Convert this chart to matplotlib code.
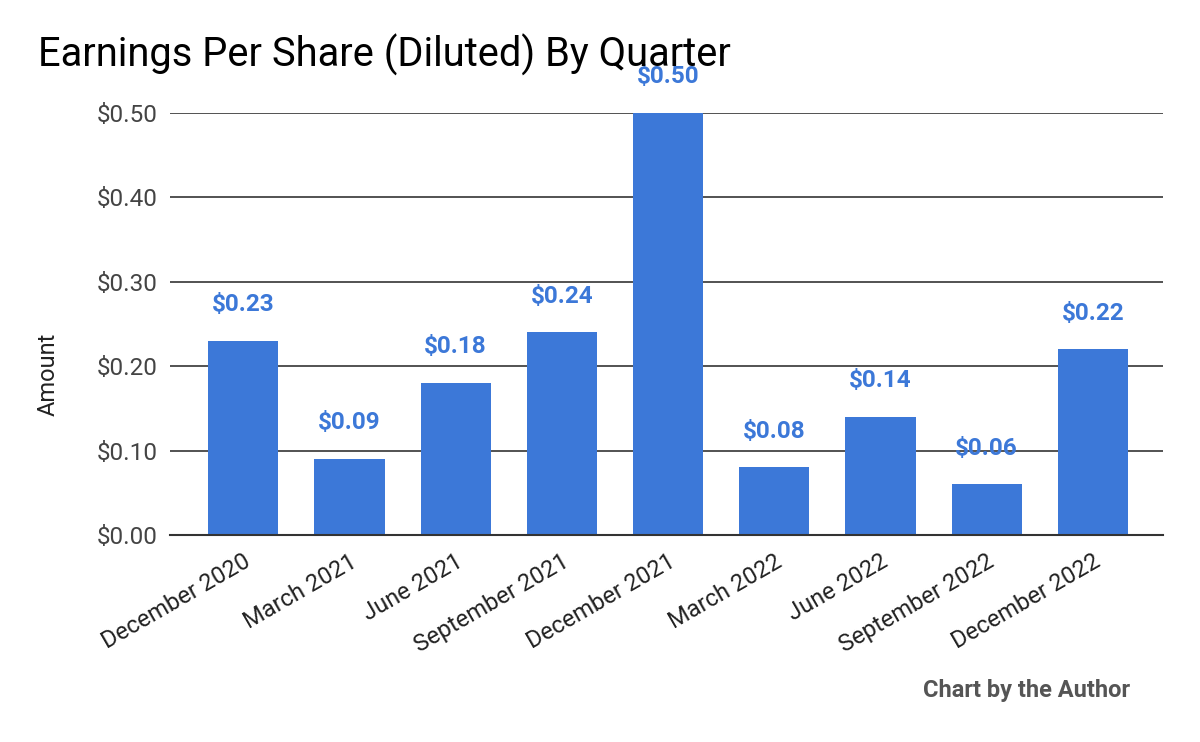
import matplotlib.pyplot as plt

quarters = ['December 2020', 'March 2021', 'June 2021', 'September 2021', 'December 2021',
            'March 2022', 'June 2022', 'September 2022', 'December 2022']
eps = [0.23, 0.09, 0.18, 0.24, 0.50, 0.08, 0.14, 0.06, 0.22]
yticks = [0.0, 0.1, 0.2, 0.3, 0.4, 0.5]

plt.rcParams['font.family'] = ['Roboto', 'DejaVu Sans']

fig = plt.figure(figsize=(12, 7.42), dpi=100)
ax = fig.add_axes([170 / 1200, 1 - 535 / 742, (1163 - 170) / 1200, (535 - 113) / 742])

x = range(len(quarters))
ax.bar(x, eps, width=0.66, color='#3c78d8', zorder=3)

# value labels above the bars
for i, v in zip(x, eps):
    ax.annotate('$%.2f' % v, (i, v), xytext=(0, 26), textcoords='offset points',
                ha='center', va='center', fontsize=17.5, fontweight='bold',
                color='#3c78d8', annotation_clip=False)

ax.set_xlim(-0.69, 8.66)
ax.set_ylim(0, 0.5)
ax.set_yticks(yticks)
ax.set_yticklabels(['$%.2f' % t for t in yticks], fontsize=17.5, color='#444444')
ax.set_xticks(list(x))
ax.set_xticklabels(quarters, rotation=30, ha='right', rotation_mode='anchor',
                   fontsize=17, color='#222222')
ax.tick_params(axis='y', length=0, pad=9)
ax.tick_params(axis='x', length=0, pad=11)

ax.grid(axis='y', color='#444444', linewidth=1.3, zorder=0)
for s in ['top', 'right', 'left']:
    ax.spines[s].set_visible(False)
ax.spines['bottom'].set_color('#333333')
ax.spines['bottom'].set_linewidth(1.5)
ax.spines['bottom'].set_zorder(4)

fig.text(48 / 1200, 1 - 374 / 742, 'Amount', fontsize=17, color='#222222',
         rotation=90, ha='center', va='center')

fig.text(38 / 1200, 1 - 55 / 742, 'Earnings Per Share (Diluted) By Quarter',
         fontsize=28.7, color='#000000', ha='left', va='center')
fig.text(1130 / 1200, 1 - 691 / 742, 'Chart by the Author', fontsize=17,
         fontweight='bold', color='#555555', ha='right', va='center')

plt.savefig('out.png', dpi=100)
